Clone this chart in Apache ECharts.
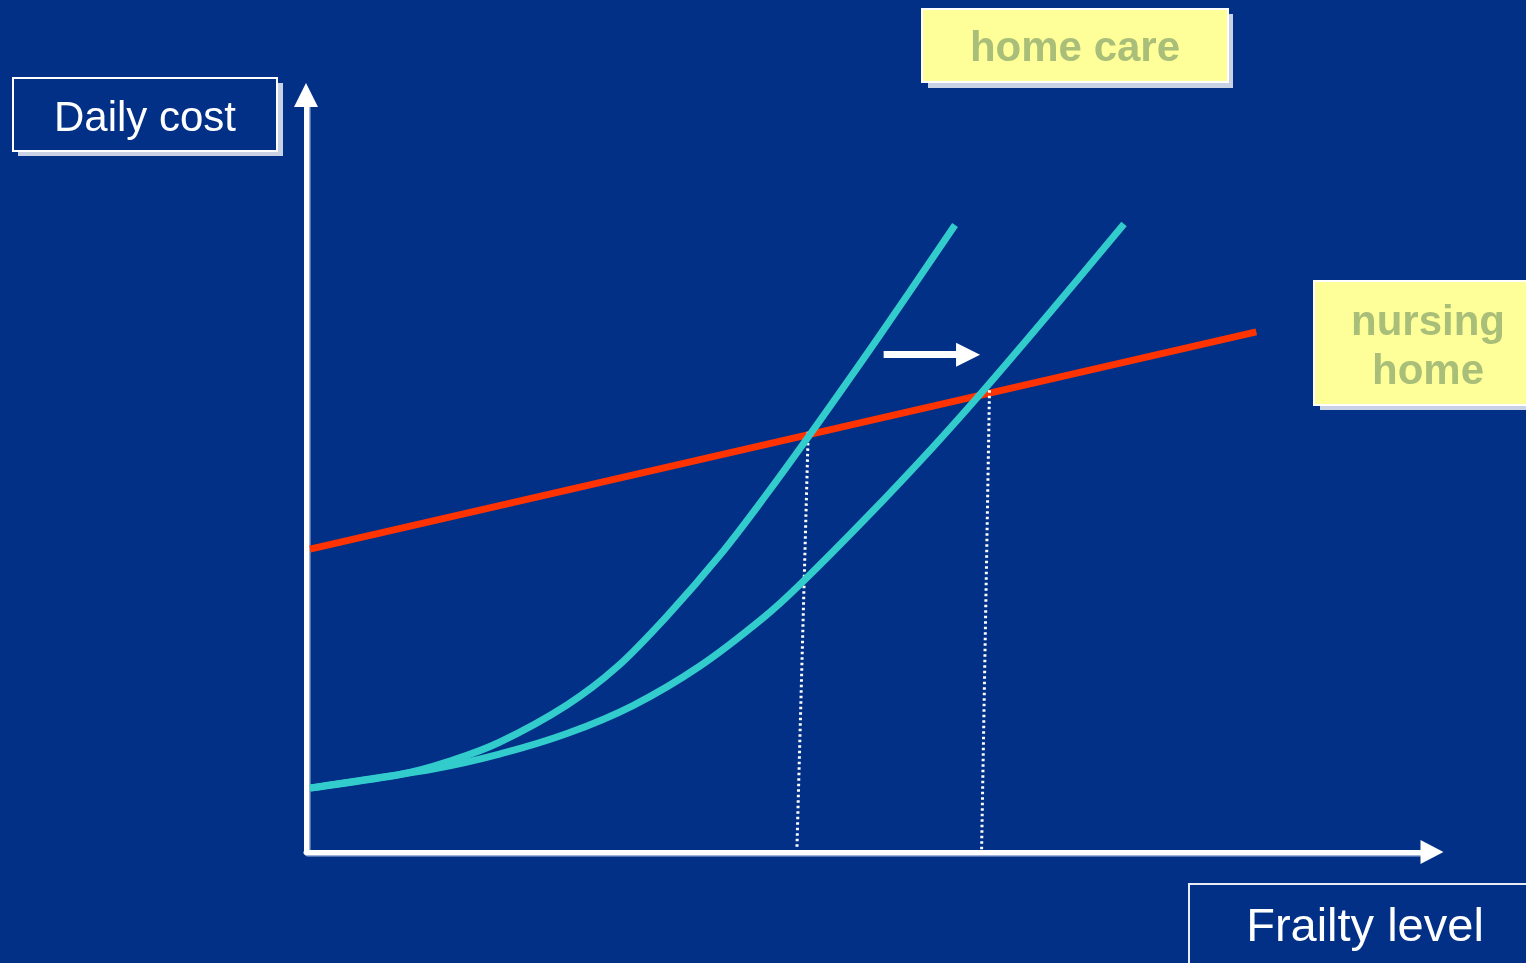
<!DOCTYPE html>
<html>
<head>
<meta charset="utf-8">
<script src="https://cdn.jsdelivr.net/npm/echarts@6/dist/echarts.min.js"></script>
<style>
html,body{margin:0;padding:0;background:#023087;}
#chart{width:1526px;height:963px;}
</style>
</head>
<body>
<div id="chart"></div>
<script>
// ---- data (x: frailty level 0-100, y: daily cost 0-100) ----
const yAxisName = 'Daily cost';
const xAxisName = 'Frailty level';
const homeCareLabel = 'home care';
const nursingHomeLabel = 'nursing\nhome';

const nursingHomeCost = [[0.36, 40.0], [84.4, 68.7]];

const homeCareBefore = [
  [0.36, 8.45], [8.35, 10.24], [12.79, 12.02], [17.23, 14.53], [23.18, 19.42],
  [27.62, 24.44], [32.06, 31.17], [36.77, 39.23], [40.76, 46.96], [44.76, 55.15],
  [50.98, 68.30], [57.64, 82.83]
];

const homeCareAfter = [
  [0.36, 8.45], [11.28, 10.96], [17.23, 12.95], [23.18, 15.65], [29.04, 19.35],
  [34.99, 24.57], [40.59, 30.91], [43.87, 35.34], [49.82, 44.25], [55.68, 53.50],
  [60.12, 60.90], [66.07, 71.27], [72.65, 82.96]
];

const threshold1 = [[44.6, 55.5], [43.6, 0.5]];
const threshold2 = [[60.7, 61.0], [60.0, 0.3]];
const shiftArrow = [[51.3, 65.7], [58.8, 65.7]];

// ---- chart ----
const chart = echarts.init(document.getElementById('chart'));
const BG = '#023087';
const CYAN = '#33CCCC';
const RED = '#FF3300';
const SHADOW = '#C9D2E4';
const LABEL_TXT = '#A9BE78';
const FONT = '"Liberation Sans", Arial, sans-serif';

const axisLineCfg = (sym) => ({
  show: true,
  onZero: false,
  symbol: ['none', 'triangle'],
  symbolSize: sym,
  lineStyle: { color: '#FFFFFF', width: 5, shadowColor: '#9FB3D9', shadowOffsetX: 1.5, shadowOffsetY: 1.5, shadowBlur: 0 }
});

// smooth curve (Catmull-Rom -> cubic Bezier) through data points mapped by the axes
function smoothCurveSeries(name, points) {
  return {
    name: name, type: 'custom', coordinateSystem: 'cartesian2d',
    data: points, encode: { x: 0, y: 1 }, clip: false, z: 5, silent: true,
    renderItem: function (params, api) {
      if (params.dataIndex !== 0) return null;
      const p = points.map(function (d) { return api.coord(d); });
      let d = 'M' + p[0][0] + ' ' + p[0][1];
      for (let i = 0; i < p.length - 1; i++) {
        const p0 = p[i - 1] || p[i], p1 = p[i], p2 = p[i + 1], p3 = p[i + 2] || p[i + 1];
        const c1x = p1[0] + (p2[0] - p0[0]) / 6, c1y = p1[1] + (p2[1] - p0[1]) / 6;
        const c2x = p2[0] - (p3[0] - p1[0]) / 6, c2y = p2[1] - (p3[1] - p1[1]) / 6;
        d += ' C' + c1x + ' ' + c1y + ' ' + c2x + ' ' + c2y + ' ' + p2[0] + ' ' + p2[1];
      }
      return {
        type: 'path',
        shape: { pathData: d },
        style: { fill: 'none', stroke: CYAN, lineWidth: 7, lineCap: 'butt', lineJoin: 'round' }
      };
    }
  };
}

const option = {
  backgroundColor: BG,
  animation: false,
  grid: { left: 306, right: 94, top: 95, bottom: 111, containLabel: false },
  xAxis: {
    type: 'value', min: 0, max: 100,
    axisLine: axisLineCfg([24, 23]),
    axisTick: { show: false }, axisLabel: { show: false }, splitLine: { show: false }
  },
  yAxis: {
    type: 'value', min: 0, max: 100,
    axisLine: axisLineCfg([24, 24]),
    axisTick: { show: false }, axisLabel: { show: false }, splitLine: { show: false }
  },
  series: [
    {
      name: 'nursing home', type: 'line', data: nursingHomeCost, symbol: 'none',
      lineStyle: { color: RED, width: 7, cap: 'butt' }, z: 3
    },
    {
      name: 'threshold 1', type: 'line', data: threshold1, symbol: 'none',
      lineStyle: { color: '#FFFFFF', width: 3, type: [2.5, 3] }, z: 4
    },
    {
      name: 'threshold 2', type: 'line', data: threshold2, symbol: 'none',
      lineStyle: { color: '#FFFFFF', width: 3, type: [2.5, 3] }, z: 4
    },
    smoothCurveSeries('home care before', homeCareBefore),
    smoothCurveSeries('home care after', homeCareAfter),
    {
      name: 'shift', type: 'lines', coordinateSystem: 'cartesian2d',
      symbol: ['none', 'triangle'], symbolSize: 24,
      lineStyle: { color: '#FFFFFF', width: 7, opacity: 1, curveness: 0 },
      data: [{ coords: shiftArrow }], z: 6
    }
  ],
  graphic: [
    // Daily cost box
    { type: 'rect', shape: { x: 18, y: 83, width: 265, height: 73 }, style: { fill: SHADOW }, z: 10 },
    { type: 'rect', shape: { x: 13, y: 78, width: 264, height: 73 }, style: { fill: BG, stroke: '#FFFFFF', lineWidth: 2 }, z: 11 },
    { type: 'text', x: 145, y: 119, style: { text: yAxisName, fill: '#FFFFFF', font: '42px ' + FONT, align: 'center', verticalAlign: 'middle' }, z: 12 },

    // home care box
    { type: 'rect', shape: { x: 928, y: 14, width: 305, height: 74 }, style: { fill: SHADOW }, z: 10 },
    { type: 'rect', shape: { x: 922, y: 9, width: 306, height: 73 }, style: { fill: '#FFFF99', stroke: '#FFFFFF', lineWidth: 2 }, z: 11 },
    { type: 'text', x: 1075, y: 49, style: { text: homeCareLabel, fill: LABEL_TXT, font: 'bold 42px ' + FONT, align: 'center', verticalAlign: 'middle' }, z: 12 },

    // nursing home box
    { type: 'rect', shape: { x: 1320, y: 287, width: 220, height: 123 }, style: { fill: SHADOW }, z: 10 },
    { type: 'rect', shape: { x: 1314, y: 281, width: 220, height: 124 }, style: { fill: '#FFFF99', stroke: '#FFFFFF', lineWidth: 2 }, z: 11 },
    { type: 'text', x: 1428, y: 348, style: { text: nursingHomeLabel, fill: LABEL_TXT, font: 'bold 42px ' + FONT, lineHeight: 49, align: 'center', verticalAlign: 'middle' }, z: 12 },

    // Frailty level box
    { type: 'rect', shape: { x: 1189, y: 884, width: 345, height: 90 }, style: { fill: BG, stroke: '#E8ECF5', lineWidth: 2 }, z: 11 },
    { type: 'text', x: 1365, y: 928, style: { text: xAxisName, fill: '#FFFFFF', font: '47px ' + FONT, align: 'center', verticalAlign: 'middle' }, z: 12 }
  ]
};
chart.setOption(option);
</script>
</body>
</html>
